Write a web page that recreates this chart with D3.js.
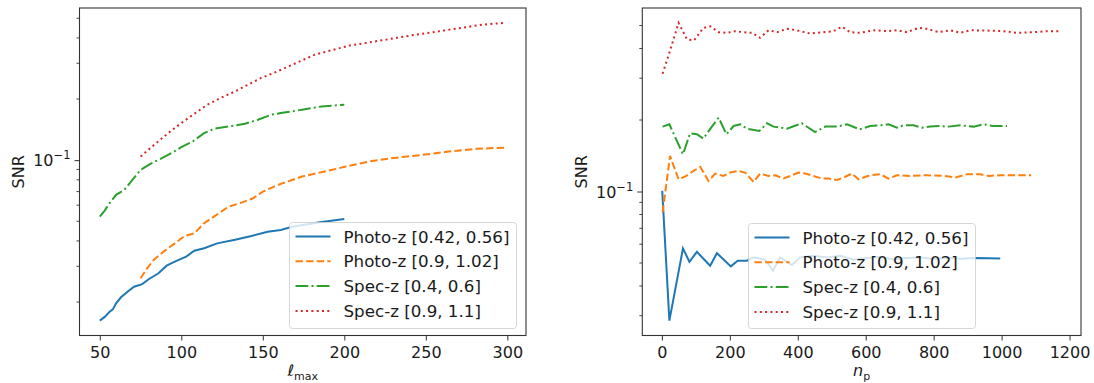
<!DOCTYPE html>
<html>
<head>
<meta charset="utf-8">
<script src="https://cdn.jsdelivr.net/npm/d3@7"></script>
<style>
  body { margin: 0; background: #fff; }
  text { font-family: "DejaVu Sans", sans-serif; fill: #1a1a1a; }
</style>
</head>
<body>
<svg id="chart" width="1094" height="383"></svg>
<script>
// legend / series
const labels = ['Photo-z [0.42, 0.56]', 'Photo-z [0.9, 1.02]', 'Spec-z [0.4, 0.6]', 'Spec-z [0.9, 1.1]'];
const colors = ['#1f77b4', '#ff7f0e', '#2ca02c', '#d62728'];
const dashes = [null, '7.4,3.2', '12.8,3.2,2,3.2', '2,3.3'];

// left panel: SNR vs l_max
const lmaxBlue = [50, 53, 56, 58, 60, 63, 67, 71, 76, 80, 86, 91, 96, 103, 108, 114, 122, 133, 143, 153, 161, 168, 185, 200];
const snrBlueL = [0.0162, 0.0169, 0.0179, 0.0184, 0.0197, 0.0211, 0.0225, 0.0238, 0.0245, 0.0259, 0.0277, 0.0302, 0.0316, 0.0335, 0.0358, 0.0368, 0.0389, 0.0405, 0.0423, 0.0444, 0.0453, 0.0470, 0.0495, 0.0513];
const lmaxOrange = [75, 79, 83, 89, 96, 102, 108, 114, 120, 129, 137, 144, 150, 157, 161, 174, 188, 201, 215, 229, 248, 264, 281, 299];
const snrOrangeL = [0.0262, 0.0293, 0.0322, 0.0354, 0.0389, 0.0423, 0.0436, 0.0489, 0.0527, 0.0590, 0.0618, 0.0649, 0.0700, 0.0741, 0.0764, 0.0830, 0.0879, 0.0930, 0.0984, 0.1023, 0.1062, 0.1102, 0.1137, 0.1153];
const lmaxGreen = [50, 53, 56, 60, 65, 70, 75, 81, 87, 94, 100, 107, 114, 120, 129, 139, 147, 155, 161, 174, 186, 200];
const snrGreenL = [0.0527, 0.0564, 0.0614, 0.0675, 0.0714, 0.0799, 0.0895, 0.0959, 0.1012, 0.1083, 0.1159, 0.1236, 0.1359, 0.1426, 0.1465, 0.1510, 0.1581, 0.1673, 0.1706, 0.1771, 0.1839, 0.1875];
const lmaxRed = [75, 81, 87, 94, 100, 108, 116, 124, 133, 141, 149, 159, 182, 203, 223, 244, 265, 285, 299];
const snrRedL = [0.1042, 0.1146, 0.1260, 0.1400, 0.1523, 0.1692, 0.1875, 0.2023, 0.2182, 0.2355, 0.2540, 0.2738, 0.3311, 0.3665, 0.3893, 0.4152, 0.4396, 0.4655, 0.4744];
const lmaxTicks = [50, 100, 150, 200, 250, 300];

// right panel: SNR vs n_p
const npBlue = [1, 22, 62, 81, 103, 142, 162, 203, 223, 250, 270, 304, 327, 348, 383, 407, 446, 486, 525, 564, 600, 640, 680, 720, 760, 800, 840, 880, 920, 960, 996];
const snrBlueR = [0.1006, 0.0286, 0.0576, 0.0506, 0.0557, 0.0487, 0.0550, 0.0484, 0.0511, 0.0511, 0.0528, 0.0516, 0.0464, 0.0528, 0.0490, 0.0528, 0.0536, 0.0528, 0.0536, 0.0516, 0.0523, 0.0530, 0.0518, 0.0525, 0.0528, 0.0520, 0.0526, 0.0521, 0.0525, 0.0524, 0.0522];
const npOrange = [2, 24, 49, 72, 93, 113, 137, 157, 181, 201, 226, 245, 270, 289, 314, 334, 358, 378, 402, 422, 446, 471, 491, 515, 535, 559, 579, 613, 643, 667, 692, 731, 780, 829, 864, 898, 937, 962, 996, 1035, 1087];
const snrOrangeR = [0.0816, 0.1412, 0.1126, 0.1163, 0.1221, 0.1269, 0.1108, 0.1190, 0.1163, 0.1202, 0.1221, 0.1202, 0.1097, 0.1190, 0.1163, 0.1171, 0.1134, 0.1163, 0.1202, 0.1190, 0.1163, 0.1134, 0.1134, 0.1119, 0.1145, 0.1190, 0.1126, 0.1171, 0.1182, 0.1134, 0.1171, 0.1163, 0.1171, 0.1163, 0.1145, 0.1182, 0.1182, 0.1163, 0.1171, 0.1171, 0.1171];
const npGreen = [2, 22, 42, 62, 83, 103, 122, 145, 167, 190, 211, 231, 250, 287, 309, 329, 368, 412, 451, 481, 515, 545, 582, 613, 643, 667, 692, 711, 741, 765, 790, 815, 844, 878, 918, 947, 976, 1016];
const snrGreenR = [0.1876, 0.1918, 0.1659, 0.1435, 0.1759, 0.1742, 0.1670, 0.1858, 0.2047, 0.1742, 0.1887, 0.1918, 0.1840, 0.1798, 0.1937, 0.1876, 0.1840, 0.1937, 0.1780, 0.1876, 0.1876, 0.1918, 0.1827, 0.1887, 0.1900, 0.1918, 0.1858, 0.1900, 0.1900, 0.1858, 0.1876, 0.1887, 0.1876, 0.1900, 0.1876, 0.1918, 0.1887, 0.1887];
const npRed = [2, 25, 49, 74, 95, 122, 142, 167, 191, 216, 240, 265, 289, 314, 339, 368, 397, 437, 476, 505, 530, 554, 584, 623, 663, 692, 721, 756, 780, 815, 849, 878, 908, 957, 1006, 1045, 1094, 1134, 1175];
const snrRedR = [0.3133, 0.3963, 0.5129, 0.4365, 0.4335, 0.4887, 0.4966, 0.4688, 0.4656, 0.4732, 0.4688, 0.4656, 0.4436, 0.4775, 0.4688, 0.4842, 0.4775, 0.4624, 0.4688, 0.4732, 0.4943, 0.4688, 0.4656, 0.4775, 0.4732, 0.4775, 0.4688, 0.4887, 0.4842, 0.4688, 0.4775, 0.4656, 0.4775, 0.4760, 0.4732, 0.4656, 0.4688, 0.4732, 0.4732];
const npTicks = [0, 200, 400, 600, 800, 1000, 1200];

// minor ticks of the log axis
const minorTicks = [0.02, 0.03, 0.04, 0.05, 0.06, 0.07, 0.08, 0.09, 0.2, 0.3, 0.4, 0.5, 0.6];

const svg = d3.select('#chart');
const zip = (xs, ys) => xs.map((x, i) => [x, ys[i]]);

drawPanel({
  left: 79.5, right: 526, top: 8, bottom: 335.5,
  series: [zip(lmaxBlue, snrBlueL), zip(lmaxOrange, snrOrangeL), zip(lmaxGreen, snrGreenL), zip(lmaxRed, snrRedL)],
  xTicks: lmaxTicks,
  legend: { x: 289.5, y: 222.5, w: 227, h: 106 },
  xLabel: [['ℓ', 'ital'], ['max', 'sub']],
  yLabelX: 18,
});

drawPanel({
  left: 642.3, right: 1081, top: 8, bottom: 335.5,
  series: [zip(npBlue, snrBlueR), zip(npOrange, snrOrangeR), zip(npGreen, snrGreenR), zip(npRed, snrRedR)],
  xTicks: npTicks,
  legend: { x: 748.5, y: 223.5, w: 227, h: 105 },
  xLabel: [['n', 'ital'], ['p', 'sub']],
  yLabelX: 581,
});

function drawPanel(cfg) {
  const all = cfg.series.flat();

  // matplotlib-style 5% margins (log space for y)
  const [x0, x1] = d3.extent(all, (d) => d[0]);
  const padX = (x1 - x0) * 0.05;
  const [l0, l1] = d3.extent(all, (d) => Math.log10(d[1]));
  const padY = (l1 - l0) * 0.05;

  const x = d3.scaleLinear().domain([x0 - padX, x1 + padX]).range([cfg.left, cfg.right]);
  const y = d3.scaleLog().domain([10 ** (l0 - padY), 10 ** (l1 + padY)]).range([cfg.bottom, cfg.top]);

  const g = svg.append('g');

  // lines
  const line = d3.line().x((d) => x(d[0])).y((d) => y(d[1]));
  g.selectAll('path.series')
    .data(cfg.series)
    .join('path')
    .attr('class', 'series')
    .attr('d', line)
    .attr('fill', 'none')
    .attr('stroke', (d, i) => colors[i])
    .attr('stroke-width', 2)
    .attr('stroke-dasharray', (d, i) => dashes[i]);

  // x axis
  const xAxis = g.append('g')
    .attr('transform', `translate(0,${cfg.bottom})`)
    .call(d3.axisBottom(x).tickValues(cfg.xTicks).tickFormat(d3.format('d')).tickSize(5).tickPadding(6).tickSizeOuter(0));
  xAxis.select('.domain').remove();
  xAxis.selectAll('text').style('font-size', '16px').attr('fill', '#1a1a1a');

  // y axis, major + minor
  const [yd0, yd1] = y.domain();
  const yAxis = g.append('g')
    .attr('transform', `translate(${cfg.left},0)`)
    .call(d3.axisLeft(y).tickValues([0.1]).tickSize(5).tickFormat(() => ''));
  yAxis.select('.domain').remove();
  yAxis.append('text')
    .attr('x', -9)
    .attr('y', y(0.1) + 6)
    .attr('text-anchor', 'end')
    .style('font-size', '16px')
    .text('10')
    .append('tspan')
    .attr('dy', -7)
    .style('font-size', '11.5px')
    .text('−1');

  g.append('g')
    .selectAll('line')
    .data(minorTicks.filter((v) => v > yd0 && v < yd1))
    .join('line')
    .attr('x1', cfg.left - 3)
    .attr('x2', cfg.left)
    .attr('y1', (d) => y(d))
    .attr('y2', (d) => y(d))
    .attr('stroke', '#333')
    .attr('stroke-width', 0.9);

  g.selectAll('.tick line').attr('stroke', '#333').attr('stroke-width', 1);

  // spines
  g.append('rect')
    .attr('x', cfg.left)
    .attr('y', cfg.top)
    .attr('width', cfg.right - cfg.left)
    .attr('height', cfg.bottom - cfg.top)
    .attr('fill', 'none')
    .attr('stroke', '#333')
    .attr('stroke-width', 1.1);

  // axis labels
  g.append('text')
    .attr('transform', `translate(${cfg.yLabelX},${(cfg.top + cfg.bottom) / 2}) rotate(-90)`)
    .attr('text-anchor', 'middle')
    .attr('dominant-baseline', 'central')
    .style('font-size', '16px')
    .text('SNR');

  const xl = g.append('text')
    .attr('x', (cfg.left + cfg.right) / 2)
    .attr('y', 376)
    .attr('text-anchor', 'middle')
    .style('font-size', '16px');
  cfg.xLabel.forEach(([t, kind]) => {
    const ts = xl.append('tspan').text(t);
    if (kind === 'ital') ts.style('font-style', 'italic');
    if (kind === 'sub') ts.attr('dy', 3.5).style('font-size', '11px');
  });

  // legend
  const lg = g.append('g').attr('transform', `translate(${cfg.legend.x},${cfg.legend.y})`);
  lg.append('rect')
    .attr('width', cfg.legend.w)
    .attr('height', cfg.legend.h)
    .attr('rx', 3)
    .attr('fill', '#fff')
    .attr('fill-opacity', 0.8)
    .attr('stroke', '#ccc')
    .attr('stroke-opacity', 0.8);

  const rows = lg.selectAll('g.row')
    .data(labels)
    .join('g')
    .attr('class', 'row')
    .attr('transform', (d, i) => `translate(0,${14 + i * 24.8})`);
  rows.append('line')
    .attr('x1', 6)
    .attr('x2', 41)
    .attr('stroke', (d, i) => colors[i])
    .attr('stroke-width', 2)
    .attr('stroke-dasharray', (d, i) => dashes[i]);
  rows.append('text')
    .attr('x', 54)
    .attr('dominant-baseline', 'central')
    .style('font-size', '16.7px')
    .text((d) => d);
}
</script>
</body>
</html>
